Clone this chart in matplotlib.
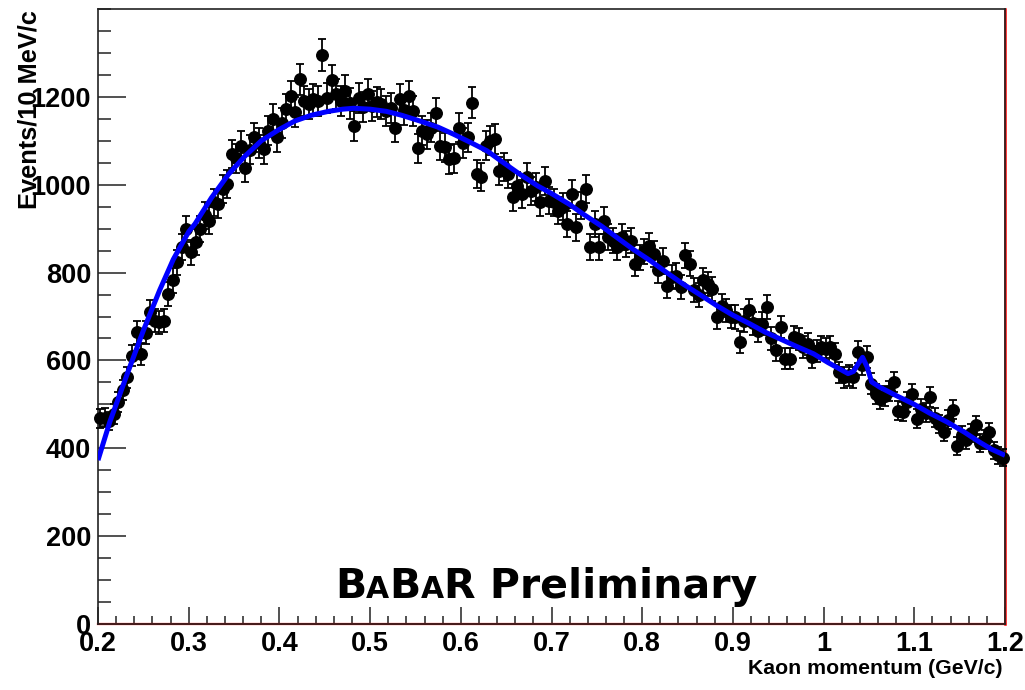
import numpy as np
import matplotlib
matplotlib.use('Agg')
import matplotlib.pyplot as plt
from matplotlib.ticker import MultipleLocator, FixedLocator
from matplotlib.transforms import IdentityTransform

## histogram binning (5 MeV bins)
p_lo, p_hi, n_bins = 0.2, 1.2, 200

## events per bin
counts = [468, 470, 462, 478, 505, 532, 562, 611, 664, 615,
          663, 710, 690, 687, 690, 752, 782, 823, 858, 899,
          846, 869, 899, 930, 918, 960, 956, 990, 1002, 1070,
          1060, 1089, 1039, 1080, 1108, 1095, 1081, 1123, 1149, 1108,
          1140, 1172, 1202, 1165, 1240, 1190, 1183, 1195, 1191, 1295,
          1198, 1238, 1206, 1190, 1214, 1185, 1134, 1198, 1176, 1206,
          1180, 1188, 1183, 1168, 1175, 1130, 1195, 1170, 1202, 1168,
          1083, 1123, 1115, 1130, 1164, 1089, 1085, 1058, 1060, 1130,
          1095, 1108, 1187, 1024, 1017, 1089, 1100, 1104, 1032, 1040,
          1024, 971, 998, 979, 1017, 986, 995, 960, 1009, 964,
          960, 941, 950, 911, 979, 903, 952, 990, 858, 911,
          858, 918, 880, 873, 858, 882, 865, 873, 820, 835,
          848, 861, 842, 805, 827, 770, 790, 793, 767, 839,
          820, 760, 748, 782, 774, 763, 699, 725, 714, 700,
          699, 642, 690, 714, 685, 668, 683, 721, 650, 623,
          676, 604, 604, 653, 649, 630, 638, 608, 622, 630,
          627, 630, 615, 573, 562, 566, 562, 619, 590, 608,
          547, 524, 513, 520, 530, 551, 486, 483, 505, 524,
          467, 490, 481, 517, 470, 455, 437, 465, 488, 405,
          430, 418, 435, 452, 412, 420, 437, 395, 384, 378]

## fitted curve (background + small peak near 1.04)
fit_p = [0.200, 0.213, 0.232, 0.250, 0.268, 0.283, 0.300, 0.307, 0.325, 0.344,
         0.362, 0.380, 0.400, 0.417, 0.435, 0.454, 0.470, 0.482, 0.500, 0.518,
         0.535, 0.555, 0.575, 0.592, 0.610, 0.629, 0.645, 0.665, 0.685, 0.700,
         0.720, 0.735, 0.755, 0.772, 0.790, 0.809, 0.827, 0.845, 0.865, 0.882,
         0.900, 0.919, 0.935, 0.952, 0.970, 0.989, 1.005, 1.020, 1.027, 1.033,
         1.038, 1.043, 1.048, 1.053, 1.062, 1.080, 1.099, 1.117, 1.136, 1.155,
         1.172, 1.185, 1.200]
fit_n = [373, 460, 568, 668, 760, 830, 893, 911, 970, 1024,
         1065, 1100, 1126, 1145, 1158, 1167, 1172, 1174, 1172, 1167,
         1158, 1145, 1131, 1115, 1097, 1077, 1053, 1024, 997, 980,
         955, 933, 906, 880, 853, 827, 800, 774, 748, 725,
         703, 683, 665, 649, 632, 615, 595, 578, 570, 575,
         592, 607, 585, 551, 539, 520, 501, 480, 460, 437,
         414, 398, 384]

xtick_vals = [0.2, 0.3, 0.4, 0.5, 0.6, 0.7, 0.8, 0.9, 1.0, 1.1, 1.2]
xtick_labels = ['0.2', '0.3', '0.4', '0.5', '0.6', '0.7', '0.8', '0.9', '1', '1.1', '1.2']
ytick_vals = [0, 200, 400, 600, 800, 1000, 1200]

fig = plt.figure(figsize=(10.25, 6.9), dpi=100)
ax = fig.add_axes([98/1025, 66/690, 907/1025, 615/690])

centers = p_lo + (np.arange(n_bins) + 0.5) * (p_hi - p_lo) / n_bins
counts = np.array(counts, dtype=float)
ax.errorbar(centers, counts, yerr=np.sqrt(counts), fmt='o', color='black',
            ms=8.3, elinewidth=1.3, capsize=3.0, capthick=1.3, zorder=3, clip_on=False)
ax.plot(fit_p, fit_n, color='#0000ff', lw=3.6, zorder=4, solid_capstyle='butt')

ax.set_xlim(p_lo, p_hi)
ax.set_ylim(0, 1400)

# red histogram outline along the bottom and right edge
ax.plot([p_lo, p_hi], [0, 0], color='red', lw=1.6, zorder=2.5, clip_on=False)
ax.plot([p_hi, p_hi], [0, 1400], color='red', lw=1.8, zorder=2.5, clip_on=False)

for side in ['left', 'bottom', 'top', 'right']:
    ax.spines[side].set_color('#222222')
    ax.spines[side].set_linewidth(1.2)

ax.xaxis.set_major_locator(FixedLocator(xtick_vals))
ax.set_xticklabels(xtick_labels)
ax.xaxis.set_minor_locator(MultipleLocator(0.02))
ax.yaxis.set_major_locator(FixedLocator(ytick_vals))
ax.yaxis.set_minor_locator(MultipleLocator(50))

ax.tick_params(axis='x', which='major', direction='in', length=12, width=1.1,
               pad=5, top=False, labelsize=19.5, color='#222222')
ax.tick_params(axis='x', which='minor', direction='in', length=6, width=1.1, top=False,
               color='#222222')
ax.tick_params(axis='y', which='major', direction='in', length=20, width=1.1,
               pad=5, right=False, labelsize=19.5, color='#222222')
ax.tick_params(axis='y', which='minor', direction='in', length=9.5, width=1.1, right=False,
               color='#222222')
for lab in ax.get_xticklabels() + ax.get_yticklabels():
    lab.set_fontfamily('Liberation Sans')
    lab.set_fontweight('bold')

fig.text(30/1025, 1 - 10/690, 'Events/10 MeV/c', rotation=90, ha='center', va='top',
         fontsize=18.3, fontweight='bold', family='Liberation Sans')
fig.text(1003/1025, 1 - 668/690, 'Kaon momentum (GeV/c)', ha='right', va='center',
         fontsize=15.3, fontweight='bold', family='Liberation Sans')

# BaBar logo text with small capital A's
pieces = [('B', 29.5), ('A', 21.5), ('B', 29.5), ('A', 21.5), ('R Preliminary', 29.5)]
renderer = fig.canvas.get_renderer()
xpix = 335
for s, size in pieces:
    t = fig.text(xpix, 690 - 598, s, fontsize=size, fontweight='bold', family='DejaVu Sans',
                 va='baseline', ha='left', transform=IdentityTransform())
    xpix = t.get_window_extent(renderer).x1

fig.savefig('out.png', dpi=100)
